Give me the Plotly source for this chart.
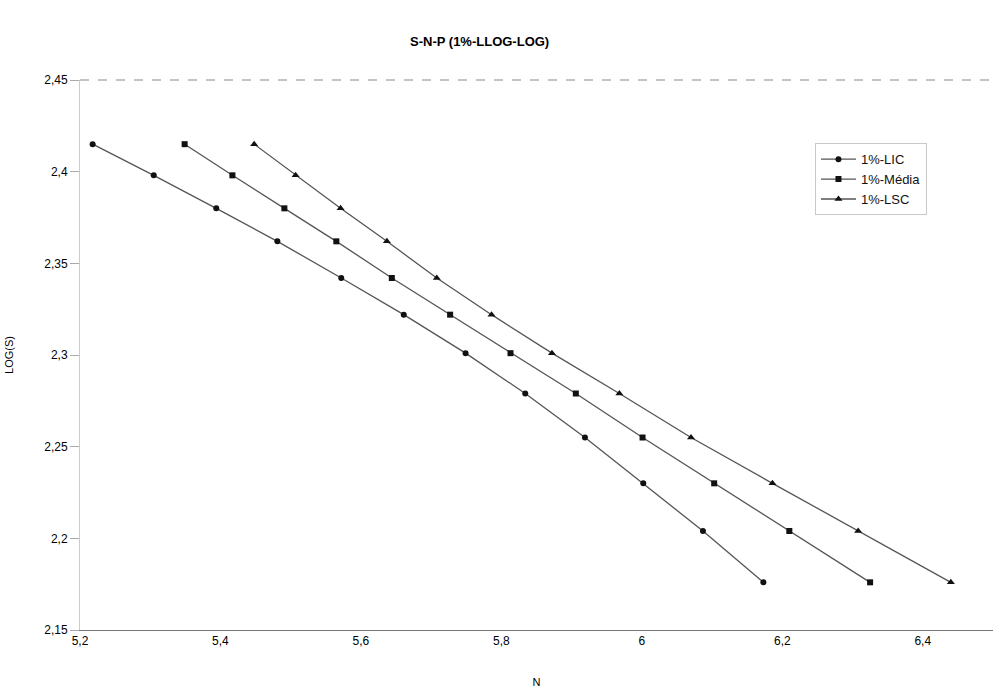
import plotly.graph_objects as go

# log10 of stress amplitude (one level per row)
log_s = [2.415, 2.398, 2.380, 2.362, 2.342, 2.322, 2.301, 2.279, 2.255, 2.230, 2.204, 2.176]

# log10 of cycles to failure for each curve
n_lic = [5.218, 5.305, 5.394, 5.481, 5.572, 5.661, 5.749, 5.834, 5.919, 6.002, 6.087, 6.173]
n_media = [5.349, 5.417, 5.491, 5.565, 5.644, 5.727, 5.813, 5.906, 6.001, 6.103, 6.210, 6.325]
n_lsc = [5.448, 5.507, 5.571, 5.637, 5.708, 5.786, 5.872, 5.968, 6.070, 6.186, 6.308, 6.440]

series = [
    ("1%-LIC", n_lic, "circle", 6),
    ("1%-Média", n_media, "square", 6),
    ("1%-LSC", n_lsc, "triangle-up", 7),
]

x_ticks = [5.2, 5.4, 5.6, 5.8, 6.0, 6.2, 6.4]
y_ticks = [2.15, 2.2, 2.25, 2.3, 2.35, 2.4, 2.45]

fig = go.Figure()
for name, xs, symbol, size in series:
    fig.add_trace(go.Scatter(
        x=xs, y=log_s, name=name, mode="lines+markers",
        line=dict(color="#555555", width=1.3),
        marker=dict(symbol=symbol, size=size, color="#111111"),
    ))

fig.update_layout(
    width=993, height=691,
    margin=dict(l=80, r=0, t=80, b=61),
    paper_bgcolor="white", plot_bgcolor="white",
    separators=", ",
    font=dict(family="Liberation Sans, Arial, sans-serif", size=12, color="black"),
    title=dict(text="<b>S-N-P (1%-LLOG-LOG)</b>", x=0.483, xanchor="center",
               y=0.94, yanchor="middle", font=dict(size=13)),
    showlegend=True,
    legend=dict(x=0.805, y=0.885, xanchor="left", yanchor="top",
                bgcolor="white", bordercolor="#c8c8c8", borderwidth=1,
                font=dict(size=13, color="#111111"), tracegroupgap=0,
                itemwidth=35, entrywidth=115),
    xaxis=dict(range=[5.2, 6.5], tickvals=x_ticks, tickformat=".1~f",
               showgrid=False, zeroline=False, showline=True,
               linecolor="#777777", linewidth=1, ticks="", ticklen=0,
               title=dict(text="N", font=dict(size=11), standoff=30)),
    yaxis=dict(range=[2.15, 2.45], tickvals=y_ticks, tickformat=".2~f",
               showgrid=False, zeroline=False, showline=True,
               linecolor="#cccccc", linewidth=1, ticks="outside",
               ticklen=9, tickcolor="#aaaaaa",
               title=dict(text="LOG(S)", font=dict(size=11), standoff=28)),
)

# dashed top frame of the plotting area
fig.add_shape(type="line", xref="paper", yref="paper", x0=0, x1=1, y0=1, y1=1,
              line=dict(color="#888888", width=1, dash="dash"))

fig.write_html("out.html")
